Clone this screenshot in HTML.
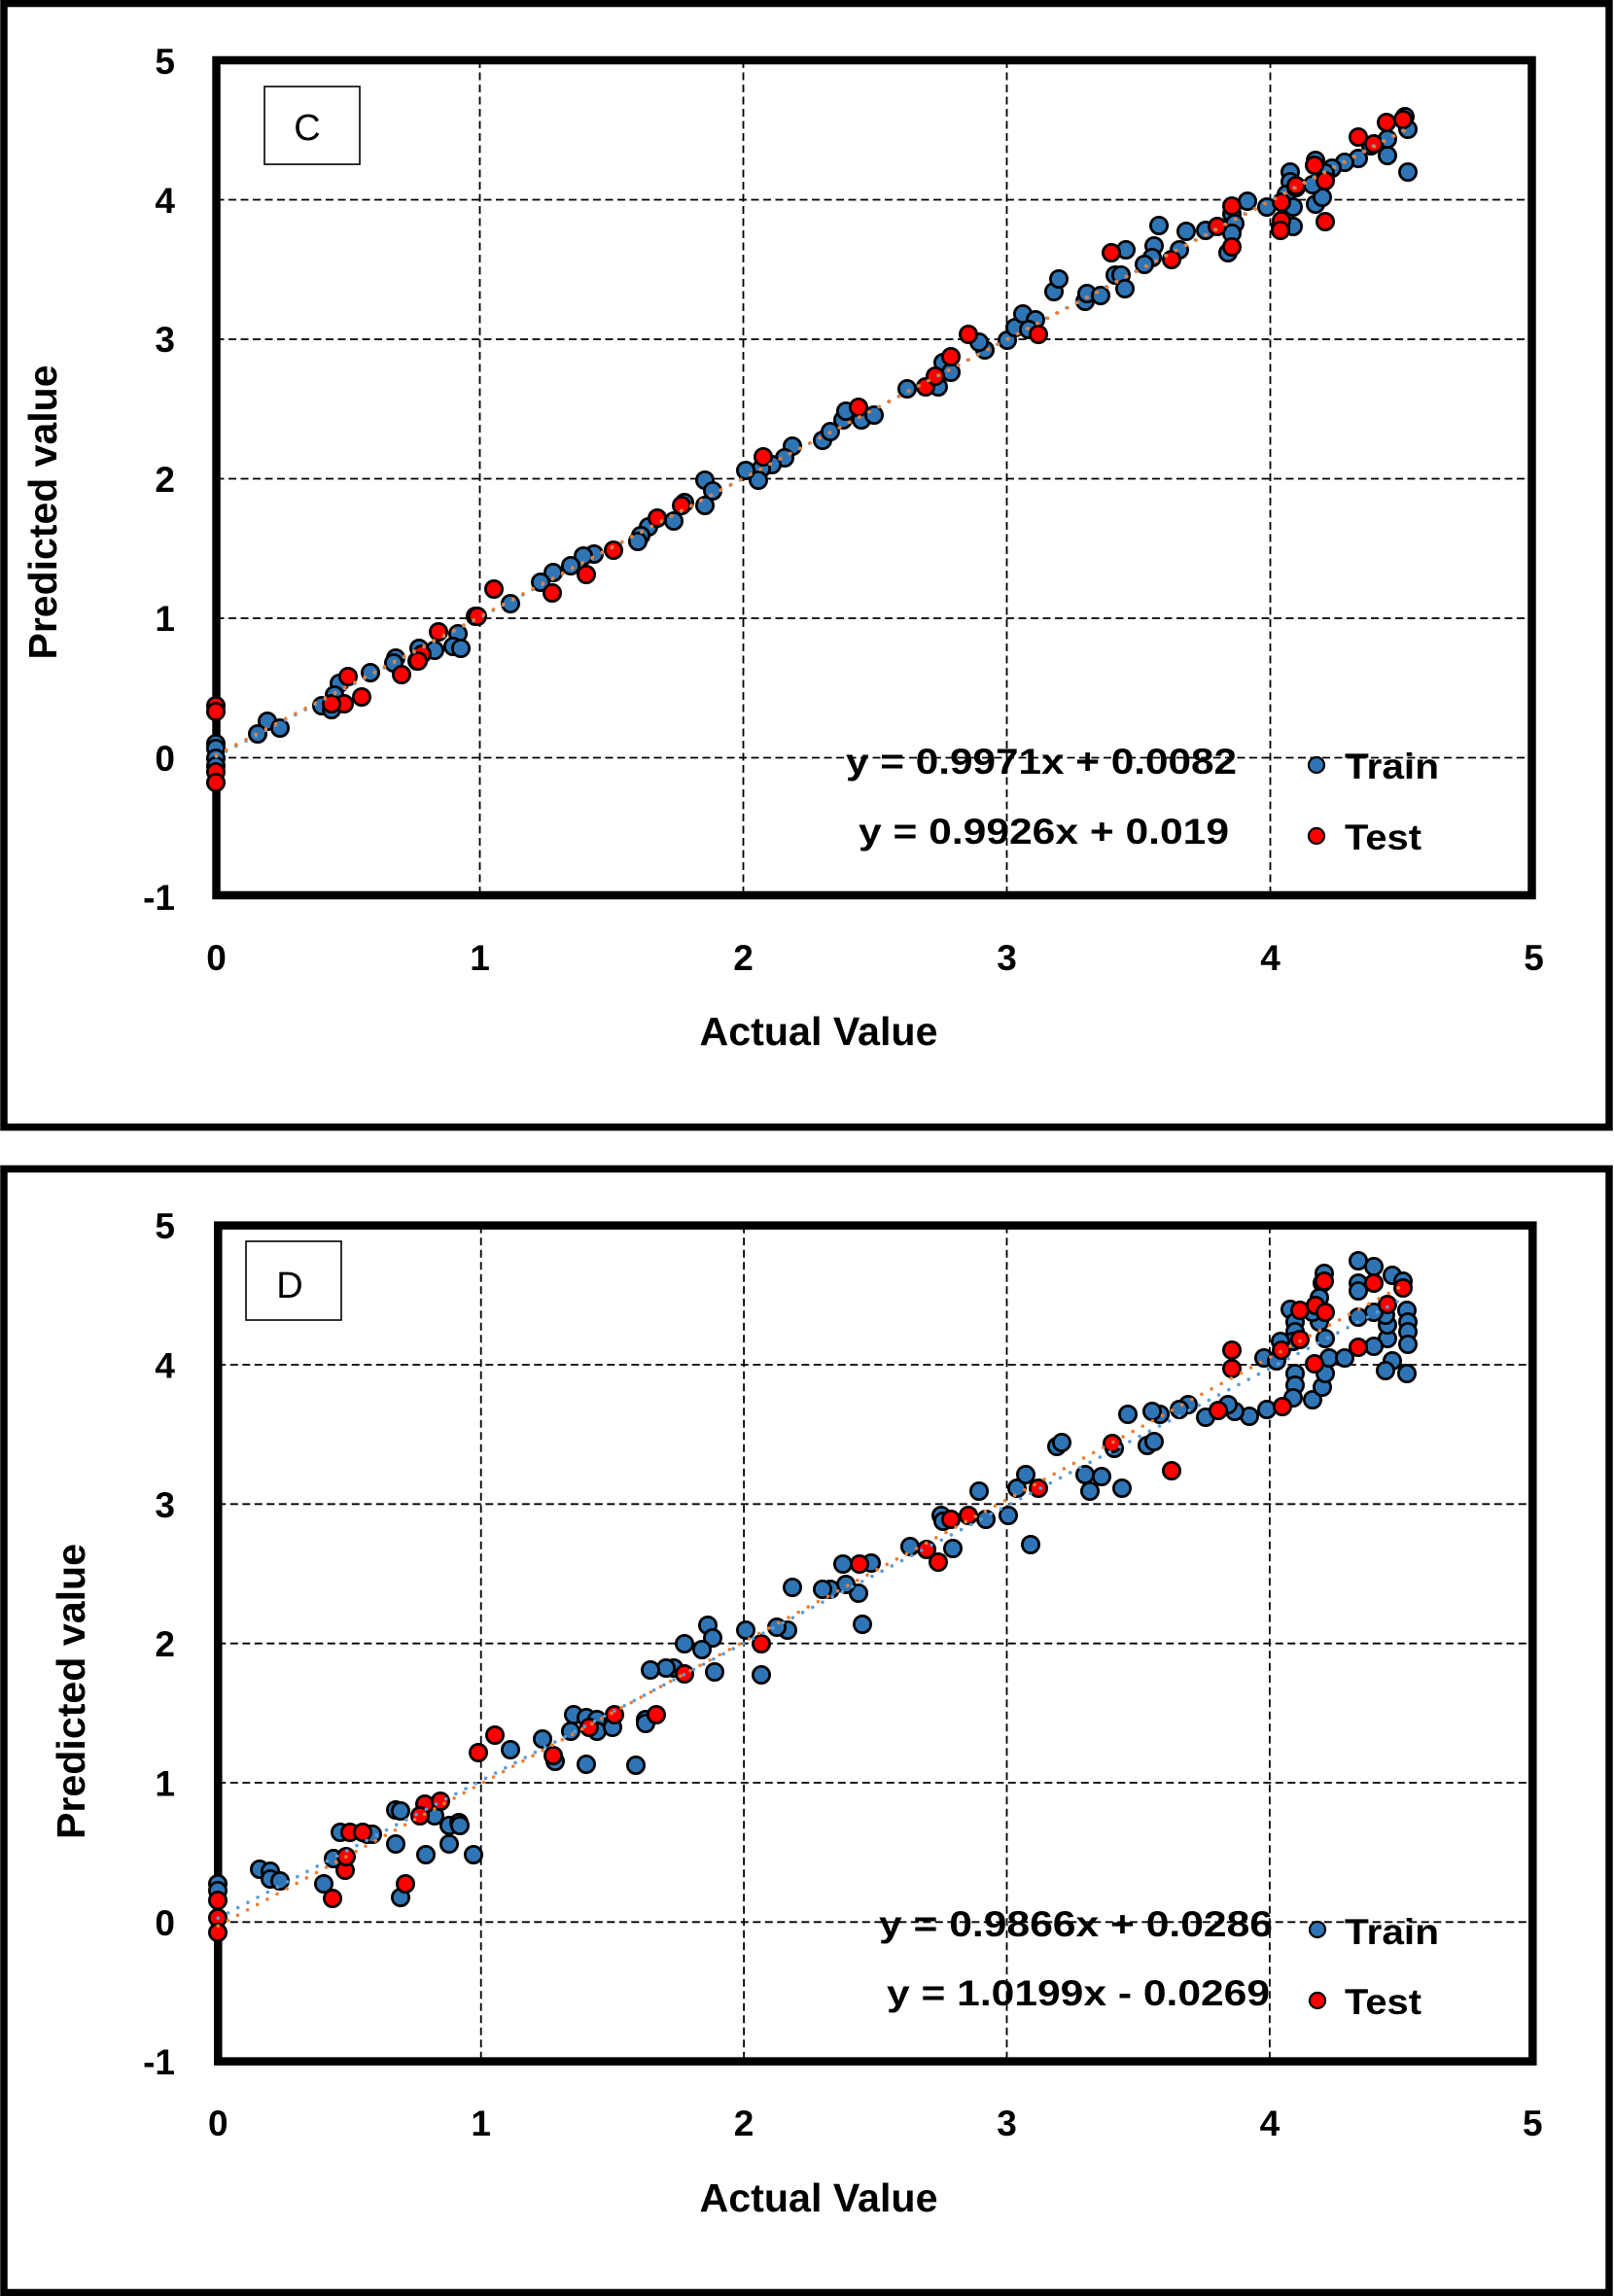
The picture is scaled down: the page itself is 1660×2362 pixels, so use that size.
<!DOCTYPE html>
<html><head><meta charset="utf-8"><style>
html,body{margin:0;padding:0;background:#fff;}
svg{display:block;}
.t{font-family:"Liberation Sans",Arial,sans-serif;font-weight:bold;font-size:37px;fill:#000;}
.lab{font-family:"Liberation Sans",Arial,sans-serif;font-weight:bold;font-size:41px;fill:#000;}
.box{font-family:"Liberation Sans",Arial,sans-serif;font-size:38px;fill:#000;}
.g{stroke:#000;stroke-width:1.8;stroke-dasharray:8 4.5;fill:none;}
.b{fill:#2F75B5;stroke:#000;stroke-width:2.8;}
.r{fill:#FF0000;stroke:#000;stroke-width:2.8;}
.tb{stroke:#5B9BD5;stroke-width:3.6;stroke-dasharray:0 11.5;stroke-linecap:round;fill:none;}
.to{stroke:#ED7D31;stroke-width:3.6;stroke-dasharray:0 11.5;stroke-linecap:round;fill:none;}
circle.b,circle.r{r:8.6px;}
</style></head><body>
<svg width="1660" height="2362" viewBox="0 0 1660 2362" xmlns="http://www.w3.org/2000/svg">
<rect x="0" y="0" width="1660" height="2362" fill="#fff"/>

<!-- ===================== PANEL C ===================== -->
<rect x="4" y="3.5" width="1651" height="1156" fill="none" stroke="#000" stroke-width="7.5"/>
<g class="g">
<line x1="222.5" y1="205.5" x2="1575.5" y2="205.5"/>
<line x1="222.5" y1="349" x2="1575.5" y2="349"/>
<line x1="222.5" y1="492.5" x2="1575.5" y2="492.5"/>
<line x1="222.5" y1="636" x2="1575.5" y2="636"/>
<line x1="222.5" y1="779.5" x2="1575.5" y2="779.5"/>
<line x1="493.5" y1="62" x2="493.5" y2="921"/>
<line x1="764.5" y1="62" x2="764.5" y2="921"/>
<line x1="1035.5" y1="62" x2="1035.5" y2="921"/>
<line x1="1306.5" y1="62" x2="1306.5" y2="921"/>
</g>
<rect x="222.5" y="62" width="1353" height="859" fill="none" stroke="#000" stroke-width="8.5"/>
<rect x="272" y="89" width="98" height="80" fill="#fff" stroke="#000" stroke-width="1.6"/>
<text class="box" x="316" y="144" text-anchor="middle">C</text>
<g class="t" text-anchor="end">
<text x="180" y="76">5</text>
<text x="180" y="219">4</text>
<text x="180" y="362">3</text>
<text x="180" y="506">2</text>
<text x="180" y="649">1</text>
<text x="180" y="793">0</text>
<text x="180" y="936">-1</text>
</g>
<g class="t" text-anchor="middle">
<text x="222.5" y="998">0</text>
<text x="493.5" y="998">1</text>
<text x="764.5" y="998">2</text>
<text x="1035.5" y="998">3</text>
<text x="1306.5" y="998">4</text>
<text x="1577.5" y="998">5</text>
</g>
<text class="lab" x="842" y="1075" text-anchor="middle" textLength="245" lengthAdjust="spacingAndGlyphs">Actual Value</text>
<text class="lab" transform="translate(58,527) rotate(-90)" text-anchor="middle" textLength="303" lengthAdjust="spacingAndGlyphs">Predicted value</text>

<g>
<circle class="b" r="8.6" cx="815" cy="459"/><circle class="b" r="8.6" cx="807" cy="471"/><circle class="b" r="8.6" cx="794" cy="478"/><circle class="b" r="8.6" cx="783" cy="482"/><circle class="b" r="8.6" cx="780" cy="494"/><circle class="b" r="8.6" cx="767" cy="484"/><circle class="b" r="8.6" cx="725" cy="494"/><circle class="b" r="8.6" cx="733" cy="505"/><circle class="b" r="8.6" cx="725" cy="520"/><circle class="b" r="8.6" cx="704" cy="517"/><circle class="b" r="8.6" cx="693" cy="536"/><circle class="b" r="8.6" cx="667" cy="542"/><circle class="b" r="8.6" cx="659" cy="551"/><circle class="b" r="8.6" cx="656" cy="557"/><circle class="b" r="8.6" cx="611" cy="570"/><circle class="b" r="8.6" cx="600" cy="572"/><circle class="b" r="8.6" cx="587" cy="582"/><circle class="b" r="8.6" cx="569" cy="589"/><circle class="b" r="8.6" cx="556" cy="599"/>
<circle class="b" r="8.6" cx="525" cy="621"/><circle class="b" r="8.6" cx="489" cy="634"/><circle class="b" r="8.6" cx="471" cy="652"/><circle class="b" r="8.6" cx="466" cy="665"/><circle class="b" r="8.6" cx="474" cy="667"/><circle class="b" r="8.6" cx="447" cy="669"/><circle class="b" r="8.6" cx="431" cy="667"/><circle class="b" r="8.6" cx="429" cy="680"/><circle class="b" r="8.6" cx="407" cy="677"/><circle class="b" r="8.6" cx="405" cy="682"/><circle class="b" r="8.6" cx="381" cy="692"/><circle class="b" r="8.6" cx="349" cy="703"/><circle class="b" r="8.6" cx="344" cy="715"/><circle class="b" r="8.6" cx="331" cy="726"/><circle class="b" r="8.6" cx="341" cy="730"/><circle class="b" r="8.6" cx="275" cy="742"/><circle class="b" r="8.6" cx="265" cy="755"/><circle class="b" r="8.6" cx="288" cy="749"/><circle class="b" r="8.6" cx="222" cy="765"/><circle class="b" r="8.6" cx="222" cy="770"/><circle class="b" r="8.6" cx="222" cy="780"/><circle class="b" r="8.6" cx="222" cy="788"/>
<circle class="b" r="8.6" cx="846" cy="453"/><circle class="b" r="8.6" cx="854" cy="444"/><circle class="b" r="8.6" cx="867" cy="432"/><circle class="b" r="8.6" cx="870" cy="423"/><circle class="b" r="8.6" cx="886" cy="432"/><circle class="b" r="8.6" cx="899" cy="427"/><circle class="b" r="8.6" cx="933" cy="400"/><circle class="b" r="8.6" cx="965" cy="398"/><circle class="b" r="8.6" cx="970" cy="373"/><circle class="b" r="8.6" cx="978" cy="383"/><circle class="b" r="8.6" cx="1013" cy="360"/><circle class="b" r="8.6" cx="1007" cy="352"/><circle class="b" r="8.6" cx="1036" cy="350"/><circle class="b" r="8.6" cx="1044" cy="337"/><circle class="b" r="8.6" cx="1052" cy="323"/><circle class="b" r="8.6" cx="1065" cy="329"/><circle class="b" r="8.6" cx="1058" cy="339"/><circle class="b" r="8.6" cx="1084" cy="300"/><circle class="b" r="8.6" cx="1089" cy="287"/><circle class="b" r="8.6" cx="1116" cy="310"/><circle class="b" r="8.6" cx="1118" cy="302"/><circle class="b" r="8.6" cx="1132" cy="304"/><circle class="b" r="8.6" cx="1147" cy="283"/>
<circle class="b" r="8.6" cx="1445" cy="120"/><circle class="b" r="8.6" cx="1448" cy="133"/><circle class="b" r="8.6" cx="1448" cy="177"/><circle class="b" r="8.6" cx="1427" cy="160"/><circle class="b" r="8.6" cx="1427" cy="143"/><circle class="b" r="8.6" cx="1410" cy="150"/><circle class="b" r="8.6" cx="1397" cy="163"/><circle class="b" r="8.6" cx="1383" cy="167"/><circle class="b" r="8.6" cx="1370" cy="173"/><circle class="b" r="8.6" cx="1363" cy="178"/><circle class="b" r="8.6" cx="1353" cy="165"/><circle class="b" r="8.6" cx="1327" cy="177"/><circle class="b" r="8.6" cx="1327" cy="187"/><circle class="b" r="8.6" cx="1323" cy="200"/><circle class="b" r="8.6" cx="1333" cy="193"/><circle class="b" r="8.6" cx="1330" cy="213"/><circle class="b" r="8.6" cx="1330" cy="233"/><circle class="b" r="8.6" cx="1353" cy="210"/><circle class="b" r="8.6" cx="1360" cy="203"/><circle class="b" r="8.6" cx="1350" cy="190"/><circle class="b" r="8.6" cx="1303" cy="213"/><circle class="b" r="8.6" cx="1283" cy="207"/><circle class="b" r="8.6" cx="1267" cy="220"/><circle class="b" r="8.6" cx="1270" cy="230"/><circle class="b" r="8.6" cx="1267" cy="240"/><circle class="b" r="8.6" cx="1263" cy="260"/><circle class="b" r="8.6" cx="1240" cy="237"/><circle class="b" r="8.6" cx="1220" cy="238"/><circle class="b" r="8.6" cx="1192" cy="232"/><circle class="b" r="8.6" cx="1213" cy="257"/><circle class="b" r="8.6" cx="1187" cy="253"/><circle class="b" r="8.6" cx="1185" cy="265"/><circle class="b" r="8.6" cx="1177" cy="272"/><circle class="b" r="8.6" cx="1158" cy="257"/><circle class="b" r="8.6" cx="1153" cy="283"/><circle class="b" r="8.6" cx="1157" cy="297"/><circle class="b" r="8.6" cx="1317" cy="233"/>
</g>
<g>
<circle class="r" r="8.6" cx="785" cy="470"/><circle class="r" r="8.6" cx="701" cy="520"/><circle class="r" r="8.6" cx="676" cy="533"/><circle class="r" r="8.6" cx="631" cy="566"/><circle class="r" r="8.6" cx="603" cy="591"/><circle class="r" r="8.6" cx="508" cy="606"/><circle class="r" r="8.6" cx="568" cy="610"/><circle class="r" r="8.6" cx="491" cy="634"/><circle class="r" r="8.6" cx="451" cy="650"/><circle class="r" r="8.6" cx="434" cy="673"/><circle class="r" r="8.6" cx="430" cy="680"/><circle class="r" r="8.6" cx="413" cy="694"/><circle class="r" r="8.6" cx="358" cy="696"/><circle class="r" r="8.6" cx="354" cy="724"/><circle class="r" r="8.6" cx="372" cy="717"/><circle class="r" r="8.6" cx="341" cy="724"/><circle class="r" r="8.6" cx="222" cy="726"/><circle class="r" r="8.6" cx="222" cy="732"/><circle class="r" r="8.6" cx="222" cy="794"/><circle class="r" r="8.6" cx="222" cy="805"/><circle class="r" r="8.6" cx="883" cy="419"/><circle class="r" r="8.6" cx="952" cy="398"/><circle class="r" r="8.6" cx="962" cy="387"/><circle class="r" r="8.6" cx="978" cy="367"/><circle class="r" r="8.6" cx="996" cy="344"/><circle class="r" r="8.6" cx="1068" cy="344"/><circle class="r" r="8.6" cx="1143" cy="260"/>
<circle class="r" r="8.6" cx="1443" cy="123"/><circle class="r" r="8.6" cx="1426" cy="126"/><circle class="r" r="8.6" cx="1397" cy="141"/><circle class="r" r="8.6" cx="1413" cy="148"/><circle class="r" r="8.6" cx="1352" cy="170"/><circle class="r" r="8.6" cx="1363" cy="186"/><circle class="r" r="8.6" cx="1333" cy="191"/><circle class="r" r="8.6" cx="1318" cy="208"/><circle class="r" r="8.6" cx="1318" cy="227"/><circle class="r" r="8.6" cx="1317" cy="237"/><circle class="r" r="8.6" cx="1363" cy="228"/><circle class="r" r="8.6" cx="1267" cy="212"/><circle class="r" r="8.6" cx="1267" cy="254"/><circle class="r" r="8.6" cx="1252" cy="233"/><circle class="r" r="8.6" cx="1205" cy="267"/>
</g>
<line class="tb" x1="222.5" y1="778.3" x2="1447.4" y2="131.6"/>
<line class="to" x1="222.5" y1="776.8" x2="1447.4" y2="132.9"/>
<text class="t" x="870" y="796" textLength="402" lengthAdjust="spacingAndGlyphs">y = 0.9971x + 0.0082</text>
<text class="t" x="883" y="868" textLength="381" lengthAdjust="spacingAndGlyphs">y = 0.9926x + 0.019</text>
<circle fill="#2F75B5" stroke="#000" stroke-width="2.2" r="8" cx="1354" cy="787"/>
<circle fill="#FF0000" stroke="#000" stroke-width="2.2" r="8" cx="1354" cy="860"/>
<text class="t" x="1383" y="801" textLength="97" lengthAdjust="spacingAndGlyphs">Train</text>
<text class="t" x="1383" y="874" textLength="79" lengthAdjust="spacingAndGlyphs">Test</text>

<!-- ===================== PANEL D ===================== -->
<rect x="4" y="1202.5" width="1651" height="1156" fill="none" stroke="#000" stroke-width="7.5"/>
<g class="g">
<line x1="224.3" y1="1404" x2="1576.3" y2="1404"/>
<line x1="224.3" y1="1547.3" x2="1576.3" y2="1547.3"/>
<line x1="224.3" y1="1690.7" x2="1576.3" y2="1690.7"/>
<line x1="224.3" y1="1834" x2="1576.3" y2="1834"/>
<line x1="224.3" y1="1977.3" x2="1576.3" y2="1977.3"/>
<line x1="494.7" y1="1260.7" x2="494.7" y2="2120.6"/>
<line x1="765.1" y1="1260.7" x2="765.1" y2="2120.6"/>
<line x1="1035.5" y1="1260.7" x2="1035.5" y2="2120.6"/>
<line x1="1305.9" y1="1260.7" x2="1305.9" y2="2120.6"/>
</g>
<rect x="224.3" y="1260.7" width="1352" height="859.9" fill="none" stroke="#000" stroke-width="8.5"/>
<rect x="253" y="1277" width="98" height="81" fill="#fff" stroke="#000" stroke-width="1.6"/>
<text class="box" x="298" y="1335" text-anchor="middle">D</text>
<g class="t" text-anchor="end">
<text x="180" y="1274">5</text>
<text x="180" y="1417.5">4</text>
<text x="180" y="1561">3</text>
<text x="180" y="1704">2</text>
<text x="180" y="1847.5">1</text>
<text x="180" y="1991">0</text>
<text x="180" y="2134">-1</text>
</g>
<g class="t" text-anchor="middle">
<text x="224.3" y="2197">0</text>
<text x="494.7" y="2197">1</text>
<text x="765.1" y="2197">2</text>
<text x="1035.5" y="2197">3</text>
<text x="1305.9" y="2197">4</text>
<text x="1576.3" y="2197">5</text>
</g>
<text class="lab" x="842" y="2275" text-anchor="middle" textLength="245" lengthAdjust="spacingAndGlyphs">Actual Value</text>
<text class="lab" transform="translate(87,1740) rotate(-90)" text-anchor="middle" textLength="304" lengthAdjust="spacingAndGlyphs">Predicted value</text>

<g>
<circle class="b" r="8.6" cx="815" cy="1633"/><circle class="b" r="8.6" cx="810" cy="1677"/><circle class="b" r="8.6" cx="799" cy="1674"/><circle class="b" r="8.6" cx="767" cy="1677"/><circle class="b" r="8.6" cx="783" cy="1723"/><circle class="b" r="8.6" cx="728" cy="1672"/><circle class="b" r="8.6" cx="733" cy="1685"/><circle class="b" r="8.6" cx="722" cy="1697"/><circle class="b" r="8.6" cx="704" cy="1691"/><circle class="b" r="8.6" cx="735" cy="1720"/><circle class="b" r="8.6" cx="693" cy="1716"/><circle class="b" r="8.6" cx="685" cy="1716"/><circle class="b" r="8.6" cx="669" cy="1718"/><circle class="b" r="8.6" cx="664" cy="1769"/><circle class="b" r="8.6" cx="590" cy="1764"/><circle class="b" r="8.6" cx="603" cy="1767"/><circle class="b" r="8.6" cx="614" cy="1769"/><circle class="b" r="8.6" cx="587" cy="1781"/><circle class="b" r="8.6" cx="614" cy="1781"/><circle class="b" r="8.6" cx="630" cy="1777"/><circle class="b" r="8.6" cx="664" cy="1773"/><circle class="b" r="8.6" cx="558" cy="1789"/><circle class="b" r="8.6" cx="571" cy="1812"/><circle class="b" r="8.6" cx="603" cy="1815"/><circle class="b" r="8.6" cx="654" cy="1816"/><circle class="b" r="8.6" cx="525" cy="1800"/>
<circle class="b" r="8.6" cx="267" cy="1923"/><circle class="b" r="8.6" cx="278" cy="1925"/><circle class="b" r="8.6" cx="278" cy="1933"/><circle class="b" r="8.6" cx="288" cy="1935"/><circle class="b" r="8.6" cx="333" cy="1938"/><circle class="b" r="8.6" cx="343" cy="1912"/><circle class="b" r="8.6" cx="350" cy="1885"/><circle class="b" r="8.6" cx="378" cy="1887"/><circle class="b" r="8.6" cx="383" cy="1887"/><circle class="b" r="8.6" cx="407" cy="1862"/><circle class="b" r="8.6" cx="412" cy="1863"/><circle class="b" r="8.6" cx="407" cy="1897"/><circle class="b" r="8.6" cx="412" cy="1952"/><circle class="b" r="8.6" cx="438" cy="1908"/><circle class="b" r="8.6" cx="447" cy="1868"/><circle class="b" r="8.6" cx="462" cy="1878"/><circle class="b" r="8.6" cx="472" cy="1875"/><circle class="b" r="8.6" cx="473" cy="1878"/><circle class="b" r="8.6" cx="462" cy="1897"/><circle class="b" r="8.6" cx="487" cy="1908"/><circle class="b" r="8.6" cx="224" cy="1938"/><circle class="b" r="8.6" cx="224" cy="1945"/>
<circle class="b" r="8.6" cx="887" cy="1671"/><circle class="b" r="8.6" cx="883" cy="1639"/><circle class="b" r="8.6" cx="870" cy="1630"/><circle class="b" r="8.6" cx="854" cy="1635"/><circle class="b" r="8.6" cx="846" cy="1635"/><circle class="b" r="8.6" cx="867" cy="1609"/><circle class="b" r="8.6" cx="896" cy="1608"/><circle class="b" r="8.6" cx="936" cy="1591"/><circle class="b" r="8.6" cx="980" cy="1593"/><circle class="b" r="8.6" cx="968" cy="1559"/><circle class="b" r="8.6" cx="970" cy="1565"/><circle class="b" r="8.6" cx="1014" cy="1563"/><circle class="b" r="8.6" cx="1007" cy="1534"/><circle class="b" r="8.6" cx="1037" cy="1559"/><circle class="b" r="8.6" cx="1060" cy="1589"/><circle class="b" r="8.6" cx="1046" cy="1531"/><circle class="b" r="8.6" cx="1055" cy="1517"/><circle class="b" r="8.6" cx="1087" cy="1488"/><circle class="b" r="8.6" cx="1092" cy="1484"/><circle class="b" r="8.6" cx="1116" cy="1517"/><circle class="b" r="8.6" cx="1121" cy="1534"/><circle class="b" r="8.6" cx="1133" cy="1519"/><circle class="b" r="8.6" cx="1154" cy="1531"/><circle class="b" r="8.6" cx="1146" cy="1490"/>
<circle class="b" r="8.6" cx="1397" cy="1297"/><circle class="b" r="8.6" cx="1413" cy="1303"/><circle class="b" r="8.6" cx="1397" cy="1320"/><circle class="b" r="8.6" cx="1397" cy="1328"/><circle class="b" r="8.6" cx="1432" cy="1312"/><circle class="b" r="8.6" cx="1443" cy="1318"/><circle class="b" r="8.6" cx="1447" cy="1348"/><circle class="b" r="8.6" cx="1448" cy="1360"/><circle class="b" r="8.6" cx="1448" cy="1370"/><circle class="b" r="8.6" cx="1448" cy="1383"/><circle class="b" r="8.6" cx="1447" cy="1413"/><circle class="b" r="8.6" cx="1432" cy="1400"/><circle class="b" r="8.6" cx="1425" cy="1410"/><circle class="b" r="8.6" cx="1427" cy="1377"/><circle class="b" r="8.6" cx="1427" cy="1363"/><circle class="b" r="8.6" cx="1413" cy="1385"/><circle class="b" r="8.6" cx="1425" cy="1353"/><circle class="b" r="8.6" cx="1413" cy="1350"/><circle class="b" r="8.6" cx="1397" cy="1355"/><circle class="b" r="8.6" cx="1362" cy="1310"/><circle class="b" r="8.6" cx="1360" cy="1320"/><circle class="b" r="8.6" cx="1357" cy="1335"/><circle class="b" r="8.6" cx="1327" cy="1347"/><circle class="b" r="8.6" cx="1332" cy="1360"/><circle class="b" r="8.6" cx="1332" cy="1370"/><circle class="b" r="8.6" cx="1330" cy="1380"/><circle class="b" r="8.6" cx="1317" cy="1380"/><circle class="b" r="8.6" cx="1300" cy="1397"/><circle class="b" r="8.6" cx="1313" cy="1400"/><circle class="b" r="8.6" cx="1332" cy="1413"/><circle class="b" r="8.6" cx="1332" cy="1425"/><circle class="b" r="8.6" cx="1330" cy="1438"/><circle class="b" r="8.6" cx="1350" cy="1440"/><circle class="b" r="8.6" cx="1360" cy="1427"/><circle class="b" r="8.6" cx="1363" cy="1413"/><circle class="b" r="8.6" cx="1367" cy="1397"/><circle class="b" r="8.6" cx="1383" cy="1397"/><circle class="b" r="8.6" cx="1363" cy="1377"/><circle class="b" r="8.6" cx="1357" cy="1360"/><circle class="b" r="8.6" cx="1350" cy="1350"/><circle class="b" r="8.6" cx="1303" cy="1450"/><circle class="b" r="8.6" cx="1285" cy="1457"/><circle class="b" r="8.6" cx="1270" cy="1452"/><circle class="b" r="8.6" cx="1263" cy="1445"/><circle class="b" r="8.6" cx="1240" cy="1458"/><circle class="b" r="8.6" cx="1222" cy="1445"/><circle class="b" r="8.6" cx="1213" cy="1450"/><circle class="b" r="8.6" cx="1193" cy="1455"/><circle class="b" r="8.6" cx="1185" cy="1452"/><circle class="b" r="8.6" cx="1160" cy="1455"/><circle class="b" r="8.6" cx="1180" cy="1487"/><circle class="b" r="8.6" cx="1187" cy="1483"/>
</g>
<g>
<circle class="r" r="8.6" cx="783" cy="1691"/><circle class="r" r="8.6" cx="704" cy="1722"/><circle class="r" r="8.6" cx="675" cy="1764"/><circle class="r" r="8.6" cx="632" cy="1764"/><circle class="r" r="8.6" cx="606" cy="1777"/><circle class="r" r="8.6" cx="509" cy="1785"/><circle class="r" r="8.6" cx="569" cy="1806"/><circle class="r" r="8.6" cx="492" cy="1803"/>
<circle class="r" r="8.6" cx="342" cy="1953"/><circle class="r" r="8.6" cx="355" cy="1924"/><circle class="r" r="8.6" cx="356" cy="1910"/><circle class="r" r="8.6" cx="360" cy="1885"/><circle class="r" r="8.6" cx="373" cy="1885"/><circle class="r" r="8.6" cx="417" cy="1938"/><circle class="r" r="8.6" cx="437" cy="1856"/><circle class="r" r="8.6" cx="453" cy="1853"/><circle class="r" r="8.6" cx="432" cy="1868"/><circle class="r" r="8.6" cx="224" cy="1955"/><circle class="r" r="8.6" cx="224" cy="1973"/><circle class="r" r="8.6" cx="224" cy="1988"/>
<circle class="r" r="8.6" cx="884" cy="1609"/><circle class="r" r="8.6" cx="953" cy="1594"/><circle class="r" r="8.6" cx="965" cy="1607"/><circle class="r" r="8.6" cx="978" cy="1563"/><circle class="r" r="8.6" cx="996" cy="1559"/><circle class="r" r="8.6" cx="1068" cy="1531"/><circle class="r" r="8.6" cx="1144" cy="1485"/>
<circle class="r" r="8.6" cx="1362" cy="1318"/><circle class="r" r="8.6" cx="1413" cy="1320"/><circle class="r" r="8.6" cx="1443" cy="1325"/><circle class="r" r="8.6" cx="1427" cy="1342"/><circle class="r" r="8.6" cx="1337" cy="1348"/><circle class="r" r="8.6" cx="1353" cy="1343"/><circle class="r" r="8.6" cx="1363" cy="1350"/><circle class="r" r="8.6" cx="1337" cy="1378"/><circle class="r" r="8.6" cx="1318" cy="1389"/><circle class="r" r="8.6" cx="1352" cy="1403"/><circle class="r" r="8.6" cx="1397" cy="1386"/><circle class="r" r="8.6" cx="1267" cy="1389"/><circle class="r" r="8.6" cx="1267" cy="1408"/><circle class="r" r="8.6" cx="1253" cy="1451"/><circle class="r" r="8.6" cx="1319" cy="1447"/><circle class="r" r="8.6" cx="1205" cy="1513"/>
</g>
<line class="tb" x1="224.3" y1="1973.2" x2="1446.5" y2="1334.2"/>
<line class="to" x1="224.3" y1="1981.2" x2="1446.5" y2="1320.5"/>
<text class="t" x="904" y="1992" textLength="405" lengthAdjust="spacingAndGlyphs">y = 0.9866x + 0.0286</text>
<text class="t" x="912" y="2063" textLength="394" lengthAdjust="spacingAndGlyphs">y = 1.0199x - 0.0269</text>
<circle fill="#2F75B5" stroke="#000" stroke-width="2.2" r="8" cx="1355" cy="1985"/>
<circle fill="#FF0000" stroke="#000" stroke-width="2.2" r="8" cx="1355" cy="2058"/>
<text class="t" x="1383" y="2000" textLength="97" lengthAdjust="spacingAndGlyphs">Train</text>
<text class="t" x="1383" y="2072" textLength="79" lengthAdjust="spacingAndGlyphs">Test</text>
</svg>
</body></html>
